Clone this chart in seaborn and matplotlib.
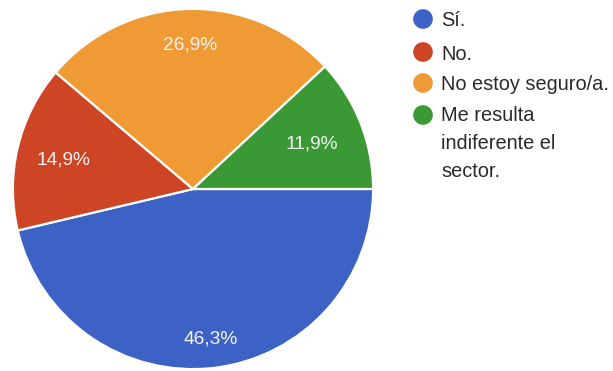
import numpy as np
import matplotlib
matplotlib.use("Agg")
import matplotlib.pyplot as plt
import seaborn as sns

# Survey answers and their shares (percent)
categories = ["Sí.", "No.", "No estoy seguro/a.", "Me resulta\nindiferente el\nsector."]
shares = [46.3, 14.9, 26.9, 11.9]
share_labels = ["46,3%", "14,9%", "26,9%", "11,9%"]
colors = ["#3d62c5", "#cd4524", "#f09a35", "#3a9935"]

sns.set_theme(style="white")
plt.rcParams["font.family"] = ["Liberation Sans", "DejaVu Sans"]

W, H = 613, 371
fig = plt.figure(figsize=(W / 100, H / 100), dpi=100)
fig.patch.set_facecolor("white")

# Pie axes: centre (193, 189) px, radius 181 px
cx, cy, r = 193, 189, 181
ax = fig.add_axes([(cx - r) / W, (H - cy - r) / H, 2 * r / W, 2 * r / H])
wedges, _ = ax.pie(
    shares,
    colors=colors,
    startangle=0,
    counterclock=False,
    radius=1,
    wedgeprops=dict(edgecolor="white", linewidth=1.6),
)

# Percentage labels placed inside each wedge along its mid angle
label_dist = [0.83, 0.74, 0.81, 0.71]
for w, lab, d in zip(wedges, share_labels, label_dist):
    mid = np.deg2rad((w.theta1 + w.theta2) / 2)
    ax.text(d * np.cos(mid), d * np.sin(mid), lab, color="#f4f4f4",
            fontsize=13.8, ha="center", va="center_baseline")

ax.set_xlim(-1.005, 1.005)
ax.set_ylim(-1.005, 1.005)
ax.set_aspect("equal")
ax.axis("off")

# Legend drawn in pixel coordinates on an overlay axes
lax = fig.add_axes([0, 0, 1, 1], facecolor="none")
lax.set_xlim(0, W)
lax.set_ylim(H, 0)
lax.axis("off")
rows_y = [19, 52, 83, 115]
for y, lab, col in zip(rows_y, categories, colors):
    lax.scatter([423], [y], s=200, color=col, edgecolors="none")
    if "\n" in lab:
        lax.text(441, y - 9, lab, fontsize=14.4, color="#2a2a2a",
                 ha="left", va="top", linespacing=1.6)
    else:
        lax.text(441, y, lab, fontsize=14.4, color="#2a2a2a",
                 ha="left", va="center_baseline")

fig.savefig("out.png", dpi=100, facecolor="white")
